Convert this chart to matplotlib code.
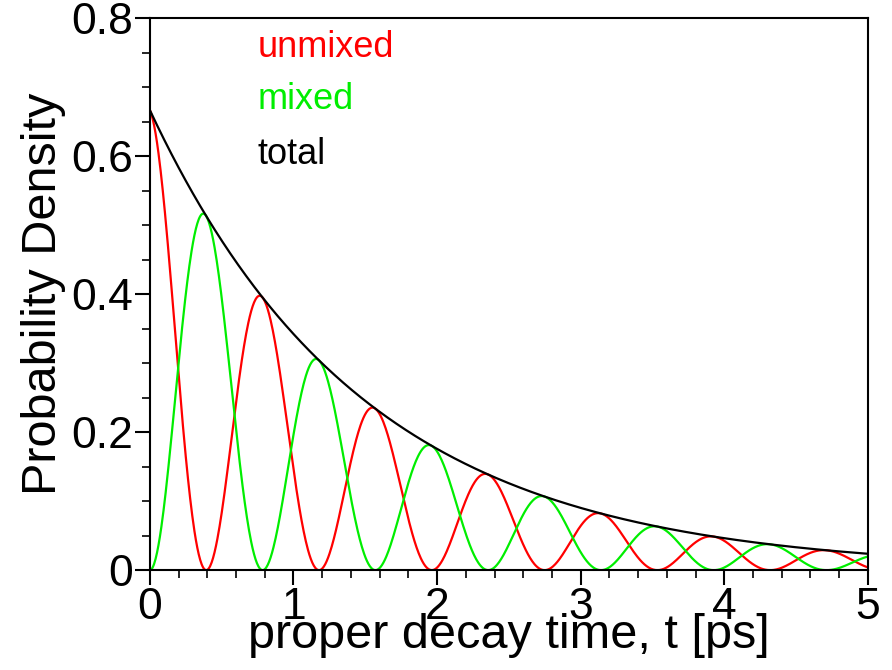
import numpy as np
import matplotlib
matplotlib.use("Agg")
import matplotlib.pyplot as plt
from matplotlib.ticker import MultipleLocator

plt.rcParams['font.family'] = ['Liberation Sans', 'DejaVu Sans']

# parameters
lifetime = 1.5      # ps, total(0) = 1/lifetime ~ 0.667
delta_m = 8.0       # ps^-1, oscillation frequency
t = np.linspace(0, 5, 1000)

total = np.exp(-t / lifetime) / lifetime
unmixed = total * np.cos(delta_m * t / 2) ** 2
mixed = total * np.sin(delta_m * t / 2) ** 2

fig = plt.figure(figsize=(8.92, 6.7), dpi=100)
ax = fig.add_axes([0.168, 0.149, 0.805, 0.824])
ax.plot(t, unmixed, color='#ff0000', lw=1.6)
ax.plot(t, mixed, color='#00ee00', lw=1.6)
ax.plot(t, total, color='black', lw=1.6)

ax.set_xlim(0, 5)
ax.set_ylim(0, 0.8)
ax.xaxis.set_major_locator(MultipleLocator(1))
ax.xaxis.set_minor_locator(MultipleLocator(0.2))
ax.yaxis.set_minor_locator(MultipleLocator(0.05))
ax.set_yticks([0, 0.2, 0.4, 0.6, 0.8])
ax.set_yticklabels(['0', '0.2', '0.4', '0.6', '0.8'])
ax.tick_params(which='major', direction='out', length=11, width=1.5, labelsize=32, pad=1)
ax.tick_params(which='minor', direction='out', length=6, width=1.2)
for s in ax.spines.values():
    s.set_linewidth(1.5)

ax.set_xlabel('proper decay time, t [ps]', fontsize=35, labelpad=-11)
ax.set_ylabel('Probability Density', fontsize=35, labelpad=4)

ax.text(0.75, 0.744, 'unmixed', color='#ff0000', fontsize=26)
ax.text(0.75, 0.668, 'mixed', color='#00ee00', fontsize=26)
ax.text(0.75, 0.588, 'total', color='black', fontsize=26)

fig.savefig('out.png', dpi=100)
